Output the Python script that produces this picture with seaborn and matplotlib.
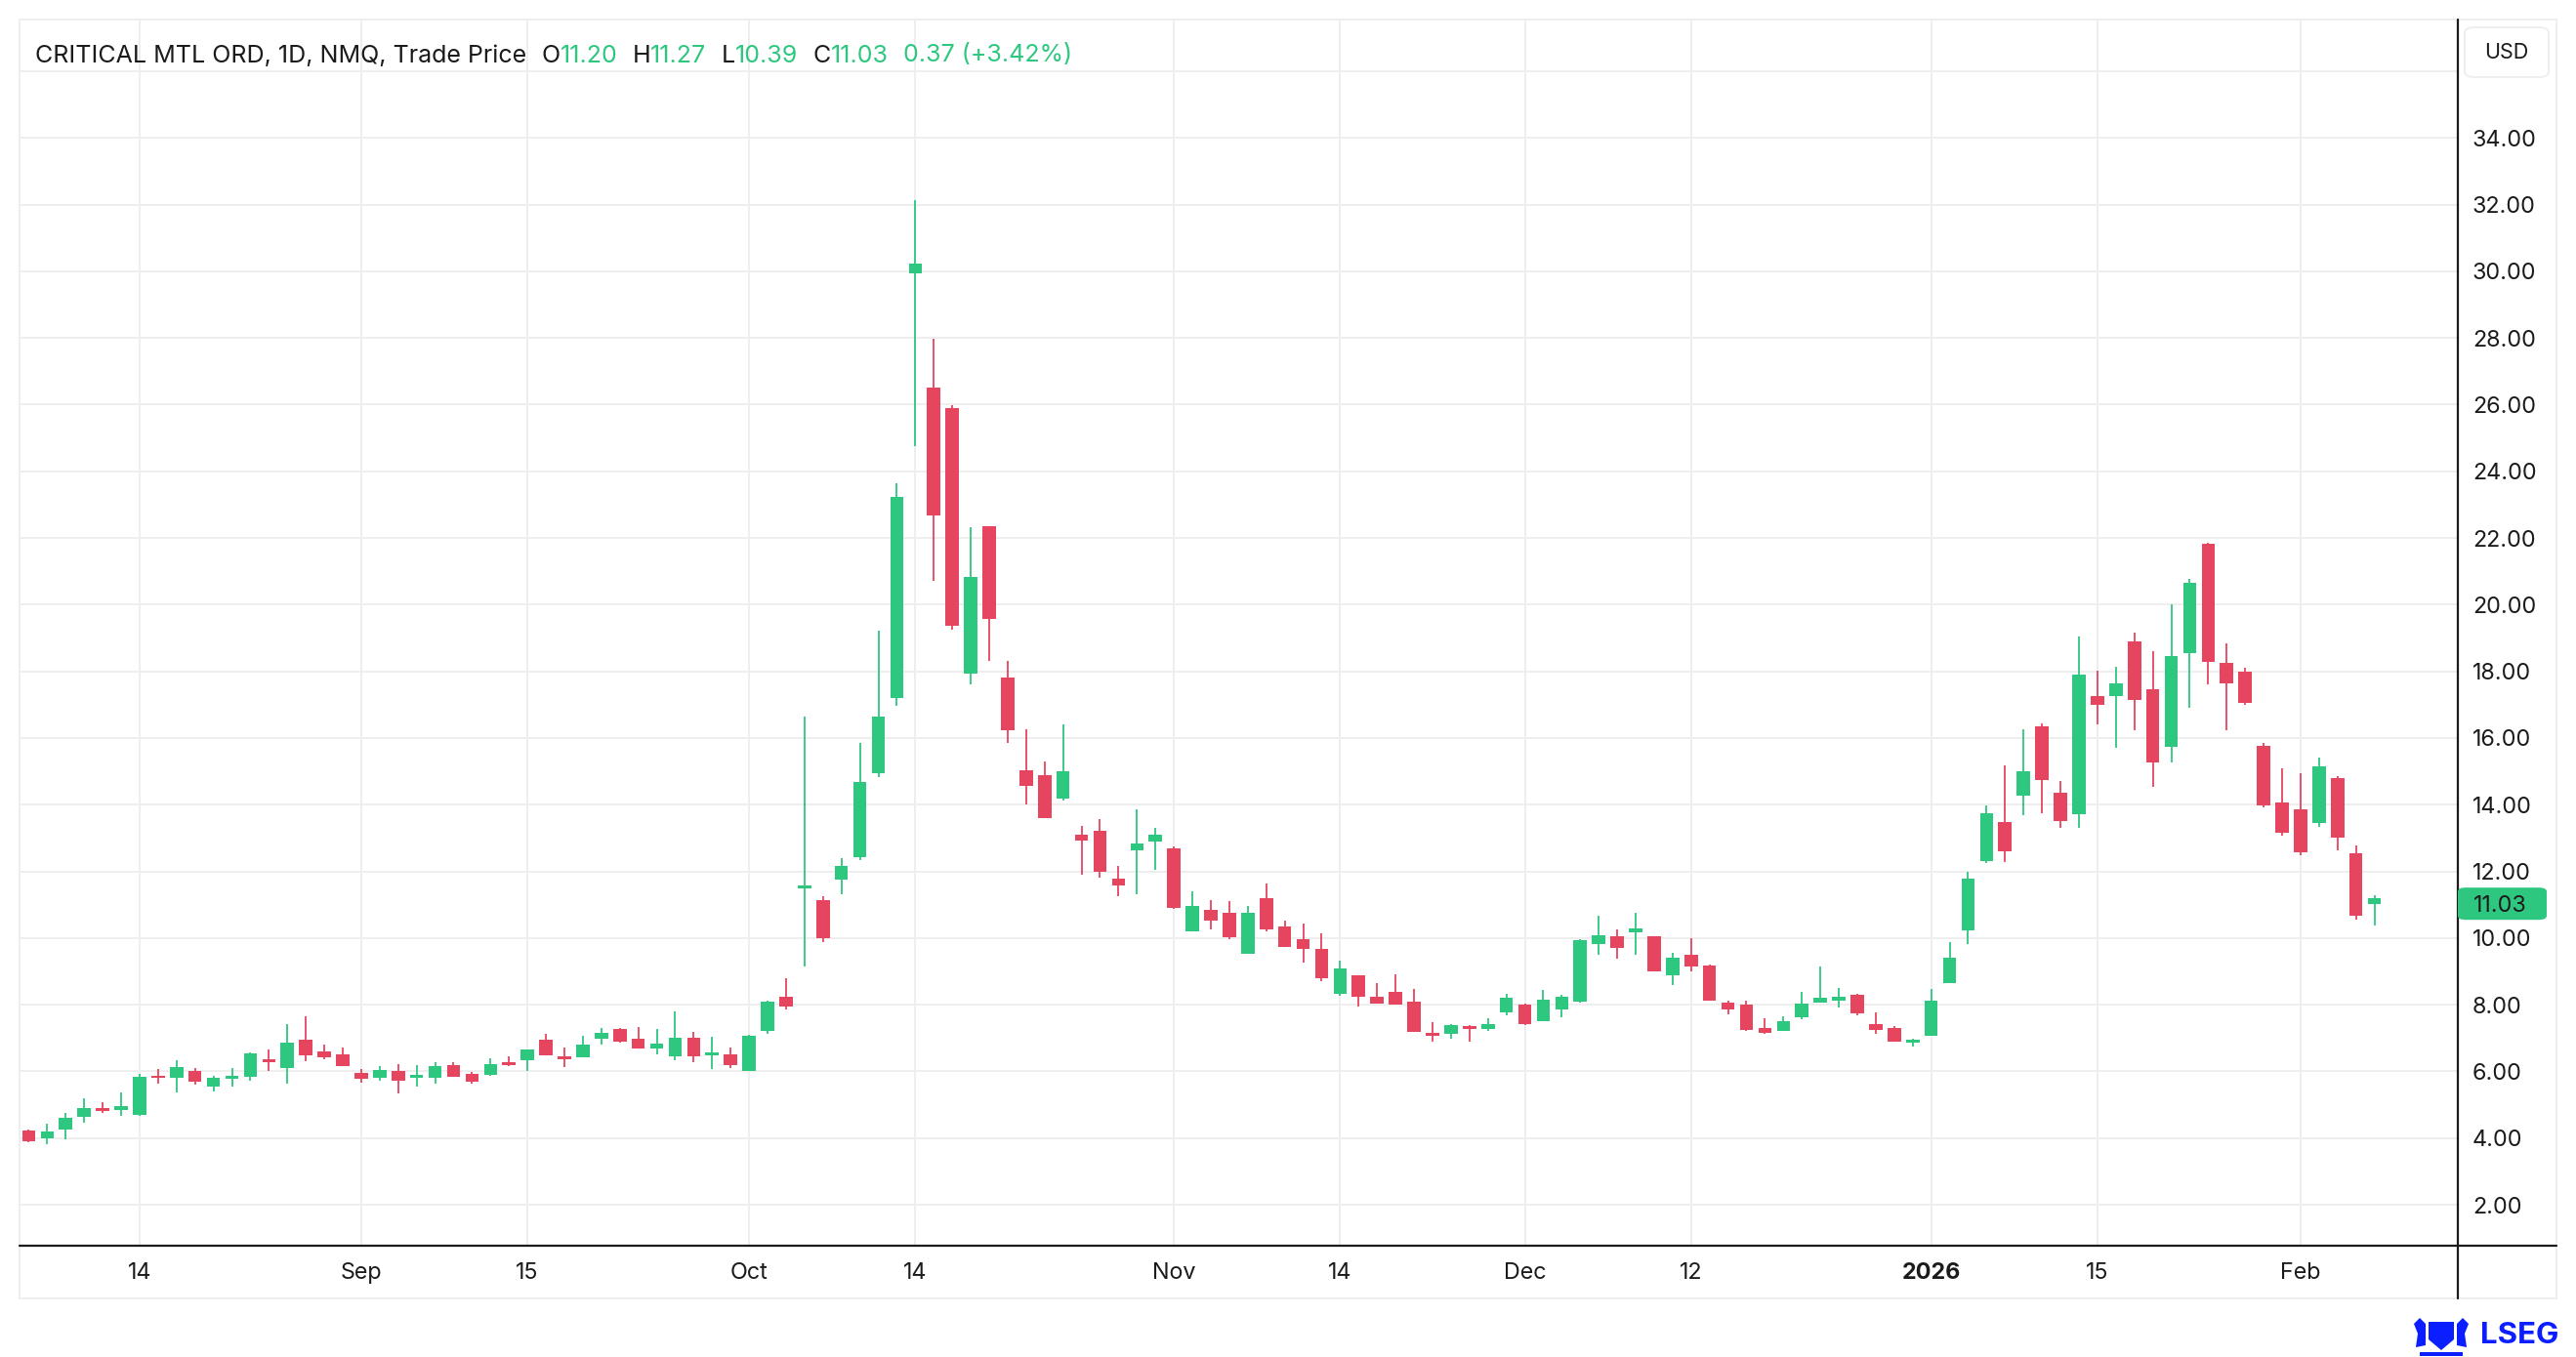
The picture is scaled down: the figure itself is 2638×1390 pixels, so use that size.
import numpy as np
import pandas as pd
import seaborn as sns
import matplotlib.pyplot as plt
from matplotlib.lines import Line2D
from matplotlib.patches import FancyBboxPatch, Rectangle, Polygon

# trading calendar (NASDAQ holidays inside the window)
HOLIDAYS = ["2025-09-01", "2025-11-27", "2025-12-25", "2026-01-01", "2026-01-19"]
DATES = pd.bdate_range("2025-08-06", "2026-02-06", freq="C", holidays=HOLIDAYS)

OPENS = [
    4.22, 4.00, 4.26, 4.63, 4.90, 4.83, 4.69, 5.86, 5.81, 6.01,
    5.53, 5.77, 5.84, 6.34, 6.11, 6.96, 6.60, 6.50, 5.95, 5.81,
    6.01, 5.82, 5.80, 6.20, 5.92, 5.90, 6.27, 6.34, 6.96, 6.41,
    6.42, 6.97, 7.28, 6.99, 6.68, 6.46, 7.01, 6.49, 6.50, 6.02,
    7.20, 8.23, 11.48, 11.15, 11.75, 12.43, 14.95, 17.20, 29.95, 26.52,
    25.91, 17.94, 22.34, 17.80, 15.02, 14.88, 14.17, 13.09, 13.21, 11.79,
    12.63, 12.89, 12.69, 10.20, 10.85, 10.76, 9.53, 11.21, 10.36, 9.98,
    9.67, 8.33, 8.88, 8.25, 8.39, 8.10, 7.12, 7.13, 7.33, 7.27,
    7.76, 7.99, 7.51, 7.85, 8.10, 9.82, 10.04, 10.18, 10.04, 8.89,
    9.49, 9.17, 8.07, 8.01, 7.29, 7.21, 7.62, 8.05, 8.11, 8.31,
    7.43, 7.29, 6.86, 7.06, 8.66, 10.22, 12.31, 13.48, 14.26, 16.35,
    14.35, 13.72, 17.26, 17.27, 18.90, 17.45, 15.72, 18.55, 21.83, 18.26,
    17.98, 15.76, 14.07, 13.86, 13.44, 14.79, 12.53, 11.20,
]
HIGHS = [
    4.25, 4.43, 4.74, 5.20, 5.08, 5.38, 5.93, 6.07, 6.33, 6.11,
    5.86, 6.10, 6.58, 6.67, 7.42, 7.66, 6.79, 6.73, 6.07, 6.16,
    6.21, 6.19, 6.27, 6.27, 5.98, 6.38, 6.45, 6.66, 7.13, 6.72,
    7.07, 7.31, 7.31, 7.34, 7.28, 7.80, 7.19, 7.04, 6.72, 7.10,
    8.12, 8.78, 16.64, 11.24, 12.39, 15.86, 19.22, 23.65, 32.12, 27.98,
    25.97, 22.32, 22.34, 18.30, 16.25, 15.29, 16.40, 13.37, 13.58, 12.16,
    13.87, 13.29, 12.74, 11.40, 11.15, 11.12, 10.97, 11.64, 10.51, 10.42,
    10.14, 9.32, 8.88, 8.66, 8.91, 8.46, 7.49, 7.43, 7.40, 7.58,
    8.34, 8.02, 8.43, 8.31, 9.98, 10.66, 10.25, 10.76, 10.04, 9.57,
    9.99, 9.20, 8.13, 8.13, 7.60, 7.64, 8.39, 9.14, 8.50, 8.34,
    7.78, 7.37, 6.97, 8.48, 9.89, 12.00, 13.98, 15.19, 16.27, 16.44,
    14.70, 19.03, 18.01, 18.15, 19.16, 18.60, 20.00, 20.76, 21.86, 18.84,
    18.12, 15.86, 15.10, 14.94, 15.41, 14.85, 12.78, 11.27,
]
LOWS = [
    3.88, 3.83, 3.97, 4.46, 4.74, 4.66, 4.68, 5.62, 5.36, 5.59,
    5.41, 5.53, 5.71, 6.02, 5.64, 6.30, 6.36, 6.16, 5.65, 5.73,
    5.33, 5.53, 5.62, 5.85, 5.64, 5.87, 6.17, 6.02, 6.49, 6.13,
    6.42, 6.79, 6.85, 6.68, 6.51, 6.33, 6.28, 6.07, 6.11, 6.02,
    7.12, 7.85, 9.14, 9.88, 11.32, 12.34, 14.83, 16.95, 24.74, 20.72,
    19.26, 17.62, 18.30, 15.86, 14.01, 13.60, 14.13, 11.89, 11.82, 11.25,
    11.30, 12.05, 10.86, 10.20, 10.27, 9.96, 9.53, 10.19, 9.73, 9.25,
    8.72, 8.28, 7.96, 8.02, 7.99, 7.19, 6.89, 6.98, 6.89, 7.22,
    7.68, 7.38, 7.51, 7.62, 8.06, 9.50, 9.38, 9.50, 9.00, 8.60,
    9.00, 8.13, 7.70, 7.21, 7.12, 7.21, 7.56, 8.05, 7.93, 7.68,
    7.12, 6.90, 6.74, 7.06, 8.66, 9.83, 12.24, 12.27, 13.69, 13.74,
    13.29, 13.29, 16.41, 15.70, 16.22, 14.53, 15.27, 16.91, 17.60, 16.22,
    16.99, 13.93, 13.07, 12.49, 13.33, 12.64, 10.55, 10.39,
]
CLOSES = [
    3.91, 4.21, 4.62, 4.91, 4.80, 4.97, 5.83, 5.81, 6.13, 5.68,
    5.80, 5.86, 6.54, 6.28, 6.85, 6.48, 6.42, 6.16, 5.79, 6.04,
    5.71, 5.86, 6.15, 5.85, 5.68, 6.21, 6.19, 6.66, 6.49, 6.37,
    6.81, 7.16, 6.89, 6.68, 6.84, 7.01, 6.45, 6.53, 6.20, 7.07,
    8.09, 7.96, 11.59, 9.99, 12.16, 14.67, 16.64, 23.23, 30.22, 22.68,
    19.38, 20.84, 19.56, 16.22, 14.56, 13.60, 15.01, 12.93, 11.98, 11.57,
    12.85, 13.09, 10.89, 10.97, 10.51, 10.01, 10.76, 10.25, 9.73, 9.68,
    8.80, 9.08, 8.25, 8.02, 7.99, 7.19, 7.08, 7.38, 7.28, 7.43,
    8.20, 7.41, 8.16, 8.25, 9.93, 10.08, 9.71, 10.30, 9.00, 9.40,
    9.15, 8.13, 7.87, 7.24, 7.15, 7.52, 8.04, 8.21, 8.24, 7.73,
    7.24, 6.90, 6.95, 8.13, 9.40, 11.78, 13.74, 12.60, 14.99, 14.74,
    13.50, 17.91, 16.98, 17.65, 17.15, 15.27, 18.47, 20.64, 18.28, 17.64,
    17.06, 13.99, 13.15, 12.56, 15.14, 13.01, 10.66, 11.03,
]

TICK_DATES = ["2025-08-14", "2025-09-02", "2025-09-15", "2025-10-01",
              "2025-10-14", "2025-11-03", "2025-11-14", "2025-12-01",
              "2025-12-12", "2026-01-02", "2026-01-15", "2026-02-02"]
TICK_LABELS = ["14", "Sep", "15", "Oct", "14", "Nov", "14", "Dec",
               "12", "2026", "15", "Feb"]
PRICE_TICKS = list(range(2, 38, 2))

HEADER_TITLE = "CRITICAL MTL ORD, 1D, NMQ, Trade Price"
HEADER_FIELDS = [("O", "11.20"), ("H", "11.27"), ("L", "10.39"), ("C", "11.03")]
HEADER_CHANGE = "0.37 (+3.42%)"
LAST_PRICE = 11.03

UP = "#2ec780"
DOWN = "#e5455f"
GRID = "#eeeeee"
INK = "#1b1b1b"
BRAND = "#0a1eff"

W, H = 2638, 1390


def fx(x):
    return x / W


def fy(y):
    return 1 - y / H


def main():
    sns.set_theme(style="white")
    plt.rcParams["font.family"] = ["Inter", "DejaVu Sans"]

    df = pd.DataFrame({"Date": DATES, "Open": OPENS, "High": HIGHS,
                       "Low": LOWS, "Close": CLOSES})
    # colour follows the change against the previous close
    prev = df["Close"].shift(1).fillna(df["Open"])
    df["color"] = np.where(df["Close"] >= prev, UP, DOWN)
    body_lo = df[["Open", "Close"]].min(axis=1)
    body_h = (df["Open"] - df["Close"]).abs().clip(lower=0.07)

    fig = plt.figure(figsize=(W / 100, H / 100), dpi=100)
    fig.patch.set_facecolor("white")
    ax = fig.add_axes([fx(20), fy(1275.7), fx(2516.7) - fx(20), fy(20) - fy(1275.7)])
    ax.set_facecolor("white")

    x = df.index.to_numpy()
    ax.vlines(x, df["Low"], df["High"], colors=df["color"], lw=1.3, zorder=2)
    ax.bar(x, body_h, bottom=body_lo, width=0.72, color=df["color"],
           edgecolor="none", zorder=3)

    ax.set_xlim(-0.5, 131.5)
    ax.set_ylim(0.78, 37.55)

    date_pos = {d.strftime("%Y-%m-%d"): i for i, d in enumerate(df["Date"])}
    ax.set_xticks([date_pos[d] for d in TICK_DATES])
    ax.set_xticklabels(TICK_LABELS)
    for lab in ax.get_xticklabels():
        if lab.get_text() == "2026":
            lab.set_fontweight("bold")

    ax.yaxis.tick_right()
    ax.set_yticks(PRICE_TICKS)
    ax.set_yticklabels(["" if v == 36 else f"{v:.2f}" for v in PRICE_TICKS])
    ax.tick_params(axis="x", length=0, pad=12.5, labelsize=16.8, labelcolor=INK)
    ax.tick_params(axis="y", length=0, pad=11, labelsize=16.8, labelcolor=INK)
    ax.grid(True, color=GRID, lw=1.4)
    ax.set_axisbelow(True)
    for s in ax.spines.values():
        s.set_visible(False)

    # panel frame and dark axis lines
    fig.add_artist(Rectangle((fx(20), fy(1330)), fx(2618) - fx(20), fy(20) - fy(1330),
                             transform=fig.transFigure, fill=False,
                             edgecolor=GRID, lw=1.4, zorder=1))
    fig.add_artist(Line2D([fx(20), fx(2618)], [fy(1275.7), fy(1275.7)],
                          transform=fig.transFigure, color=INK, lw=1.6, zorder=5))
    fig.add_artist(Line2D([fx(2516.7), fx(2516.7)], [fy(20), fy(1330)],
                          transform=fig.transFigure, color=INK, lw=1.6, zorder=5))

    # currency box
    fig.add_artist(FancyBboxPatch((fx(2524), fy(79)), fx(2610) - fx(2524), fy(28) - fy(79),
                                  boxstyle="round,pad=0,rounding_size=0.004",
                                  transform=fig.transFigure, facecolor="white",
                                  edgecolor=GRID, lw=1.4, zorder=4))
    fig.text(fx(2567), fy(54), "USD", ha="center", va="center",
             fontsize=15.5, color=INK, zorder=6)

    # last price tag
    y_tag = ax.transData.transform((0, LAST_PRICE))[1] / H
    tag_h = 33 / H
    fig.add_artist(FancyBboxPatch((fx(2517), y_tag - tag_h / 2), fx(2608) - fx(2517), tag_h,
                                  boxstyle="round,pad=0,rounding_size=0.003",
                                  transform=fig.transFigure, facecolor=UP,
                                  edgecolor="none", zorder=6))
    fig.text(fx(2533), y_tag, f"{LAST_PRICE:.2f}", ha="left", va="center_baseline",
             fontsize=16.8, color=INK, zorder=7)

    # header line, pieces chained one after another
    last = fig.text(fx(36), fy(57), HEADER_TITLE, ha="left", va="center",
                    fontsize=18, color=INK)
    pieces = []
    for key, val in HEADER_FIELDS:
        pieces.append((key, INK, 11))
        pieces.append((val, UP, 0))
    pieces.append((HEADER_CHANGE, UP, 11))
    for txt, col, gap in pieces:
        last = ax.annotate(txt, xy=(1, 0), xycoords=last,
                           xytext=(gap, 0), textcoords="offset points",
                           ha="left", va="bottom", fontsize=18, color=col,
                           annotation_clip=False)

    # LSEG mark
    fig.text(fx(2540), fy(1368), "LSEG", ha="left", va="center",
             fontsize=22.5, fontweight="bold", color=BRAND)
    shield = [(2487, 1354), (2513, 1354), (2513, 1372), (2500, 1383), (2487, 1372)]
    fig.add_artist(Polygon([(fx(a), fy(b)) for a, b in shield], closed=True,
                           transform=fig.transFigure, facecolor=BRAND, edgecolor="none"))
    for side in (-1, 1):
        lion = [(2500 + side * 16, 1378), (2500 + side * 16, 1356),
                (2500 + side * 22, 1350), (2500 + side * 28, 1356),
                (2500 + side * 24, 1366), (2500 + side * 26, 1380)]
        fig.add_artist(Polygon([(fx(a), fy(b)) for a, b in lion], closed=True,
                               transform=fig.transFigure, facecolor=BRAND,
                               edgecolor="none"))
    fig.add_artist(Rectangle((fx(2478), fy(1389)), fx(44), fy(1385) - fy(1389),
                             transform=fig.transFigure, facecolor=BRAND,
                             edgecolor="none"))

    fig.savefig("out.png", dpi=100)


if __name__ == "__main__":
    main()
